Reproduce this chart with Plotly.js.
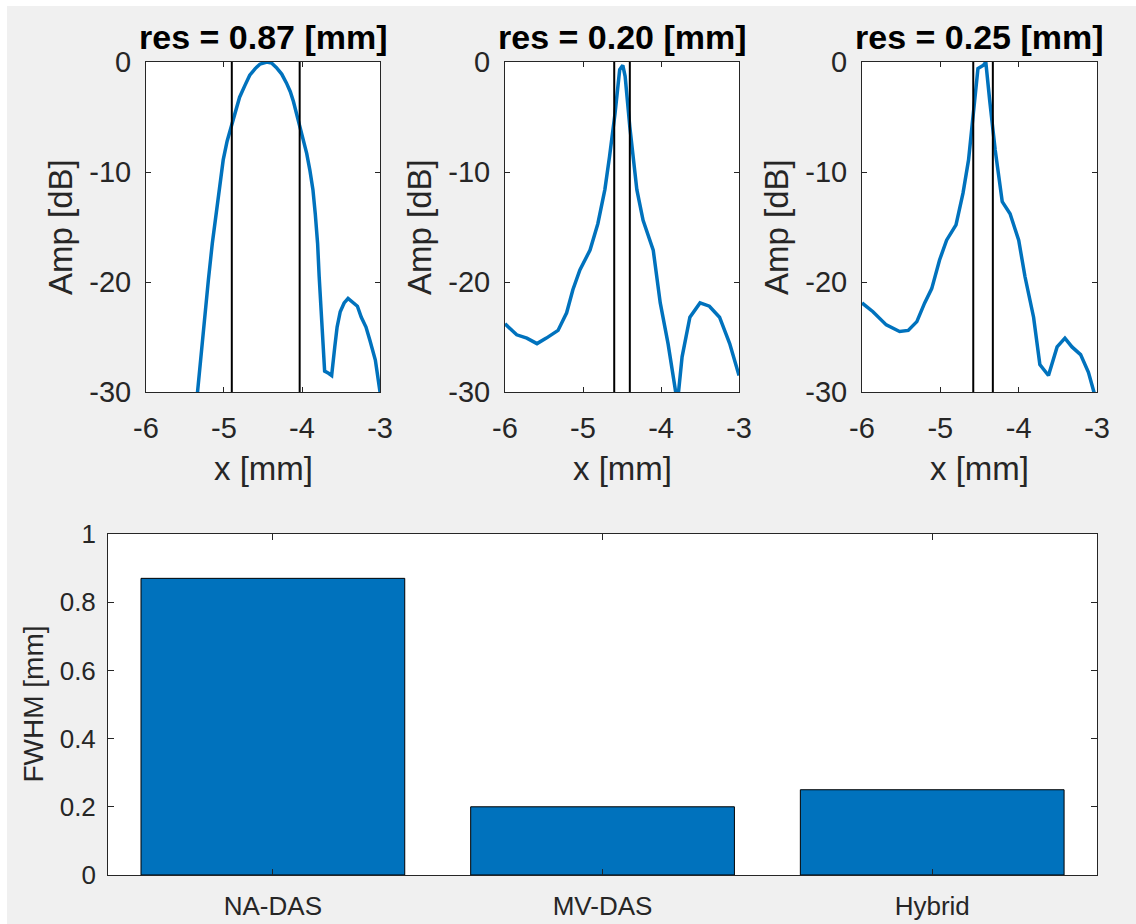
<!DOCTYPE html>
<html>
<head>
<meta charset="utf-8">
<script src="https://cdn.plot.ly/plotly-3.0.1.min.js"></script>
<style>
  html, body { margin: 0; padding: 0; background: #ffffff; }
  #fig { position: absolute; left: 7px; top: 6px; width: 1129px; height: 918px; }
</style>
</head>
<body>
<div id="fig"></div>
<script>
// Lateral beam profiles (x in mm, amplitude in dB) for the three beamformers
const methods = ['NA-DAS', 'MV-DAS', 'Hybrid'];

const xNA = [-5.38, -5.34, -5.29, -5.24, -5.20, -5.15, -5.09, -5.05, -5.01, -4.96, -4.90, -4.85, -4.80, -4.73, -4.67, -4.60, -4.54, -4.45, -4.39, -4.33, -4.26, -4.20, -4.15, -4.11, -4.07, -4.03, -3.98, -3.94, -3.90, -3.86, -3.83, -3.80, -3.78, -3.75, -3.73, -3.71, -3.66, -3.62, -3.58, -3.55, -3.51, -3.46, -3.41, -3.34, -3.29, -3.24, -3.18, -3.13, -3.06, -3.00];
const yNA = [-33.0, -30.0, -25.9, -22.9, -19.8, -16.5, -13.2, -10.9, -8.9, -7.2, -5.7, -4.4, -3.2, -2.1, -1.2, -0.6, -0.2, 0.0, -0.1, -0.5, -1.1, -1.9, -2.7, -3.6, -4.7, -5.7, -6.9, -8.3, -9.8, -11.6, -13.8, -16.5, -19.5, -23.2, -26.2, -28.1, -28.3, -28.5, -25.9, -24.1, -22.7, -21.9, -21.5, -21.9, -22.2, -23.2, -24.1, -25.3, -27.1, -30.0];

const xMV = [-6.00, -5.85, -5.72, -5.59, -5.47, -5.32, -5.21, -5.13, -5.04, -4.91, -4.81, -4.72, -4.66, -4.59, -4.53, -4.49, -4.46, -4.40, -4.31, -4.23, -4.10, -4.01, -3.91, -3.82, -3.79, -3.73, -3.63, -3.50, -3.38, -3.25, -3.12, -3.00];
const yMV = [-23.8, -24.8, -25.1, -25.6, -25.1, -24.4, -22.8, -20.7, -18.9, -17.1, -14.7, -11.6, -8.6, -4.7, -0.7, -0.3, -1.3, -5.9, -11.6, -14.4, -17.1, -21.9, -25.6, -30.0, -31.0, -26.8, -23.2, -21.9, -22.2, -23.2, -25.6, -28.5];

const xHY = [-6.00, -5.86, -5.69, -5.52, -5.41, -5.30, -5.20, -5.11, -5.01, -4.92, -4.80, -4.71, -4.64, -4.58, -4.52, -4.45, -4.42, -4.37, -4.30, -4.21, -4.11, -4.00, -3.92, -3.81, -3.73, -3.62, -3.51, -3.41, -3.32, -3.21, -3.11, -3.04, -3.00];
const yHY = [-21.9, -22.7, -23.9, -24.5, -24.4, -23.6, -21.9, -20.6, -18.0, -16.2, -14.8, -11.9, -8.9, -5.0, -0.6, -0.3, 0.0, -3.5, -8.0, -12.7, -13.8, -16.2, -19.5, -23.2, -27.5, -28.5, -25.9, -25.1, -25.9, -26.6, -28.2, -30.0, -31.5];

// -6 dB crossing positions (mm) used to mark the resolution
const fwhmLeft  = [-4.90, -4.60, -4.58];
const fwhmRight = [-4.03, -4.40, -4.33];

// Resolution (FWHM) per method, mm
const fwhm = [0.87, 0.20, 0.25];

const profX = [xNA, xMV, xHY];
const profY = [yNA, yMV, yHY];

const blue = '#0072BD';
const axCol = '#262626';
const font = 'Liberation Sans, Arial, Helvetica, sans-serif';

const traces = [];
const annotations = [];
const layout = {
  width: 1129, height: 918,
  paper_bgcolor: '#f0f0f0',
  plot_bgcolor: '#ffffff',
  margin: {l: 0, r: 0, t: 0, b: 0},
  showlegend: false,
  font: {family: font, color: axCol}
};

const topDomains = [[0.1231, 0.3304], [0.4411, 0.6484], [0.7573, 0.9655]];
const topY = [0.5795, 0.9390];

for (let i = 0; i < 3; i++) {
  const n = i + 1;
  const xa = 'x' + n, ya = 'y' + n;
  traces.push({
    type: 'scatter', mode: 'lines', x: profX[i], y: profY[i],
    xaxis: xa, yaxis: ya, line: {color: blue, width: 3.5}, hoverinfo: 'skip'
  });
  traces.push({
    type: 'scatter', mode: 'lines', x: [fwhmLeft[i], fwhmLeft[i]], y: [-30, 0],
    xaxis: xa, yaxis: ya, line: {color: '#000000', width: 2}, hoverinfo: 'skip'
  });
  traces.push({
    type: 'scatter', mode: 'lines', x: [fwhmRight[i], fwhmRight[i]], y: [-30, 0],
    xaxis: xa, yaxis: ya, line: {color: '#000000', width: 2}, hoverinfo: 'skip'
  });
  layout['xaxis' + n] = {
    domain: topDomains[i], anchor: ya, range: [-6, -3],
    tickvals: [-6, -5, -4, -3], ticktext: ['-6', '-5', '-4', '-3'],
    ticks: 'inside', ticklen: 5, tickcolor: axCol, tickwidth: 1,
    showline: true, linecolor: axCol, linewidth: 1, mirror: 'ticks',
    showgrid: false, zeroline: false,
    tickfont: {size: 29, color: axCol}, ticklabelstandoff: 10
  };
  layout['yaxis' + n] = {
    domain: topY, anchor: xa, range: [-30, 0],
    tickvals: [-30, -20, -10, 0], ticktext: ['-30', '-20', '-10', '0'],
    ticks: 'inside', ticklen: 5, tickcolor: axCol, tickwidth: 1,
    showline: true, linecolor: axCol, linewidth: 1, mirror: 'ticks',
    showgrid: false, zeroline: false,
    tickfont: {size: 29, color: axCol}, ticklabelstandoff: 8
  };
  annotations.push({
    xref: xa + ' domain', yref: ya + ' domain', x: 0.5, y: 1,
    xanchor: 'center', yanchor: 'middle', yshift: 25, showarrow: false,
    text: '<b>res = ' + fwhm[i].toFixed(2) + ' [mm]</b>',
    font: {size: 34, color: '#000000', family: font}
  });
  annotations.push({
    xref: xa + ' domain', yref: ya + ' domain', x: 0.5, y: 0,
    xanchor: 'center', yanchor: 'middle', yshift: -76, showarrow: false,
    text: 'x [mm]', font: {size: 33, color: axCol, family: font}
  });
  annotations.push({
    xref: xa + ' domain', yref: ya + ' domain', x: 0, y: 0.5,
    xanchor: 'center', yanchor: 'middle', xshift: -86, textangle: -90, showarrow: false,
    text: 'Amp [dB]', font: {size: 33, color: axCol, family: font}
  });
}

// Bar chart of FWHM per method
traces.push({
  type: 'bar', x: methods, y: fwhm, xaxis: 'x4', yaxis: 'y4', width: 0.8,
  marker: {color: blue, line: {color: '#000000', width: 1}}, hoverinfo: 'skip'
});
layout.xaxis4 = {
  domain: [0.0895, 0.9655], anchor: 'y4', type: 'category', range: [-0.5, 2.5],
  ticks: 'inside', ticklen: 6, tickcolor: axCol, tickwidth: 1,
  showline: true, linecolor: axCol, linewidth: 1, mirror: 'ticks',
  showgrid: false, zeroline: false,
  tickfont: {size: 26, color: axCol}, ticklabelstandoff: 8
};
layout.yaxis4 = {
  domain: [0.0534, 0.4248], anchor: 'x4', range: [0, 1],
  tickvals: [0, 0.2, 0.4, 0.6, 0.8, 1], ticktext: ['0', '0.2', '0.4', '0.6', '0.8', '1'],
  ticks: 'inside', ticklen: 6, tickcolor: axCol, tickwidth: 1,
  showline: true, linecolor: axCol, linewidth: 1, mirror: 'ticks',
  showgrid: false, zeroline: false,
  tickfont: {size: 26, color: axCol}, ticklabelstandoff: 6
};
annotations.push({
  xref: 'x4 domain', yref: 'y4 domain', x: 0, y: 0.5,
  xanchor: 'center', yanchor: 'middle', xshift: -75, textangle: -90, showarrow: false,
  text: 'FWHM [mm]', font: {size: 28, color: axCol, family: font}
});

layout.annotations = annotations;

Plotly.newPlot('fig', traces, layout, {displayModeBar: false, staticPlot: true});
</script>
</body>
</html>
